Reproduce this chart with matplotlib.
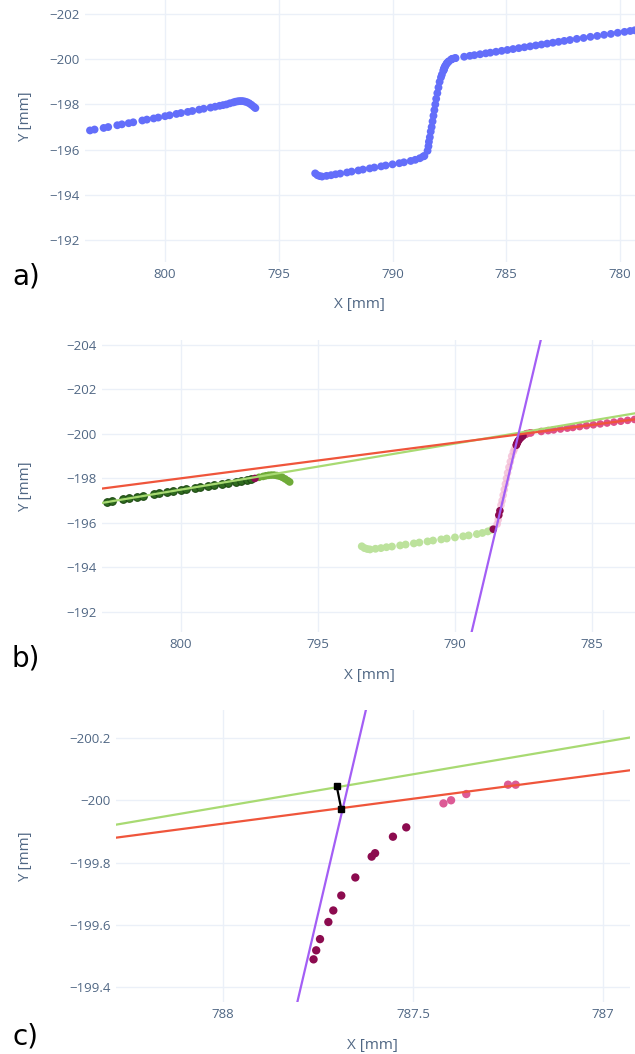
import matplotlib.pyplot as plt
from matplotlib.ticker import FuncFormatter

plt.rcParams['font.family'] = ['Open Sans', 'DejaVu Sans']

# measured contour points, split into the segments used in b) and c)
left_x = [803.3, 803.1, 802.7, 802.5, 802.1, 801.9, 801.6, 801.4, 801.0, 800.8, 800.5, 800.3,
          800.0, 799.8, 799.5, 799.3, 799.0, 798.8, 798.5, 798.3, 798.0, 797.8, 797.6, 797.45]
left_y = [-196.85, -196.89, -196.96, -197.00, -197.08, -197.12, -197.17, -197.21, -197.29, -197.33,
          -197.38, -197.42, -197.48, -197.52, -197.58, -197.62, -197.67, -197.71, -197.77, -197.81,
          -197.86, -197.90, -197.94, -197.97]

curl_x = [797.15, 797.0, 796.9, 796.8, 796.7, 796.6, 796.5, 796.4, 796.3, 796.2, 796.1, 796.03]
curl_y = [-198.05, -198.09, -198.12, -198.14, -198.15, -198.15, -198.13, -198.10, -198.05, -197.98,
          -197.90, -197.84]

bottom_x = [793.4, 793.3, 793.2, 793.1, 792.9, 792.7, 792.5, 792.3, 792.0, 791.8, 791.5, 791.3,
            791.0, 790.8, 790.5, 790.3, 790.0, 789.7, 789.5, 789.2, 789.0, 788.8, 788.65]
bottom_y = [-194.95, -194.87, -194.83, -194.81, -194.84, -194.87, -194.91, -194.94, -194.99, -195.03,
            -195.08, -195.12, -195.17, -195.21, -195.26, -195.30, -195.35, -195.40, -195.44, -195.50,
            -195.55, -195.62, -195.70]

break_x = [797.3, 788.6, 788.4, 788.36]
break_y = [-198.0, -195.72, -196.35, -196.55]

rise_x = [788.46, 788.42, 788.32, 788.28, 788.24, 788.20, 788.16, 788.12, 788.08, 788.03, 787.98,
          787.93, 787.87, 787.83]
rise_y = [-195.95, -196.15, -196.8, -197.0, -197.25, -197.5, -197.75, -198.0, -198.25, -198.5,
          -198.75, -199.0, -199.2, -199.32]

corner_x = [787.762, 787.755, 787.745, 787.723, 787.710, 787.689, 787.652, 787.609, 787.600,
            787.553, 787.518]
corner_y = [-199.489, -199.518, -199.554, -199.609, -199.646, -199.694, -199.752, -199.819, -199.830,
            -199.883, -199.913]

top_x = [787.42, 787.40, 787.36, 787.25, 787.23, 786.85, 786.6, 786.4, 786.15, 785.9, 785.7,
         785.45, 785.2, 784.95, 784.7, 784.45, 784.2, 783.95, 783.7, 783.45, 783.2, 782.95, 782.7,
         782.45, 782.2, 781.9, 781.6, 781.3, 781.0, 780.7, 780.4, 780.1, 779.8, 779.55, 779.35]
top_y = [-199.99, -200.00, -200.02, -200.05, -200.05, -200.11, -200.15, -200.18, -200.22,
         -200.26, -200.29, -200.33, -200.37, -200.41, -200.45, -200.49, -200.53, -200.57, -200.61,
         -200.65, -200.69, -200.73, -200.77, -200.81, -200.85, -200.90, -200.94, -200.99, -201.03,
         -201.08, -201.12, -201.17, -201.21, -201.25, -201.28]

# fitted lines: point on line and slope
red_pt, red_slope = (788.0, -199.925), 0.16
green_pt, green_slope = (788.0, -199.98), 0.207
purple_pt, purple_slope = (787.68, -200.0), 5.2

# corner points from the two intersections
sq_x = [787.701, 787.689]
sq_y = [-200.045, -199.972]

all_x = left_x + break_x[:1] + curl_x + bottom_x + break_x[1:] + rise_x + corner_x + top_x
all_y = left_y + break_y[:1] + curl_y + bottom_y + break_y[1:] + rise_y + corner_y + top_y

TXT = '#506784'
W, H = 635, 1054
fig = plt.figure(figsize=(W / 100, H / 100), dpi=100)


def axes_px(left, top, right, bottom):
    return fig.add_axes([left / W, 1 - bottom / H, (right - left) / W, (bottom - top) / H])


def style(ax, xlim, ylim, xticks, yticks):
    ax.set_xlim(*xlim)
    ax.set_ylim(*ylim)
    ax.set_xticks(xticks)
    ax.set_yticks(yticks)
    fmt = FuncFormatter(lambda v, p: ('%g' % round(v, 3)).replace('-', '\u2212'))
    ax.xaxis.set_major_formatter(fmt)
    ax.yaxis.set_major_formatter(fmt)
    ax.grid(True, color='#ebf0f8', linewidth=1)
    ax.set_axisbelow(True)
    for s in ax.spines.values():
        s.set_visible(False)
    ax.tick_params(length=0, labelsize=9.5, labelcolor=TXT, pad=4)


def fit_lines(ax):
    ax.axline(green_pt, slope=green_slope, color='#a8da72', lw=1.6, zorder=4)
    ax.axline(red_pt, slope=red_slope, color='#ef553b', lw=1.6, zorder=4)
    ax.axline(purple_pt, slope=purple_slope, color='#a35ef5', lw=1.6, zorder=5)


# a) raw points
ax1 = axes_px(85, 0, 635, 262)
style(ax1, (803.52, 779.34), (-191.03, -202.62), [800, 795, 790, 785, 780], range(-202, -191, 2))
ax1.scatter(all_x, all_y, s=32, color='#636efa', edgecolors='none', zorder=3)

# b) segments and fitted lines
ax2 = axes_px(102, 340, 635, 632)
style(ax2, (802.88, 783.43), (-191.10, -204.22), [800, 795, 790, 785], range(-204, -191, 2))
ax2.scatter(left_x, left_y, s=30, color='#2f6b1f', edgecolors='#1d4a12', linewidths=0.8, zorder=3)
ax2.scatter(curl_x, curl_y, s=30, color='#6fab38', edgecolors='none', zorder=3)
ax2.scatter(bottom_x, bottom_y, s=32, color='#bce29c', edgecolors='none', zorder=3)
ax2.scatter(rise_x, rise_y, s=30, color='#f2b3cf', alpha=0.7, edgecolors='none', zorder=3)
ax2.scatter(top_x, top_y, s=30, color='#df5088', edgecolors='none', zorder=3)
ax2.scatter(corner_x + break_x, corner_y + break_y, s=30, color='#8c0b4f', edgecolors='none', zorder=3)
fit_lines(ax2)

# c) zoom on the corner
ax3 = axes_px(116, 710, 630, 1002)
style(ax3, (788.282, 786.929), (-199.352, -200.29), [788, 787.5, 787],
      [-200.2, -200.0, -199.8, -199.6, -199.4])
ax3.scatter(rise_x, rise_y, s=36, color='#f2b3cf', edgecolors='none', zorder=3)
ax3.scatter(corner_x, corner_y, s=36, color='#8c0b4f', edgecolors='none', zorder=3)
ax3.scatter(top_x, top_y, s=36, color='#dc5a95', edgecolors='none', zorder=3)
fit_lines(ax3)
ax3.plot(sq_x, sq_y, color='black', lw=1.6, marker='s', ms=5, zorder=6)

# axis titles and panel letters
for ax, cx, ty, cy, letter, ly in [(ax1, 359, 305, 117, 'a)', 276),
                                   (ax2, 369, 675, 487, 'b)', 658),
                                   (ax3, 372, 1045, 857, 'c)', 1037)]:
    fig.text(cx / W, 1 - ty / H, 'X [mm]', ha='center', va='center', fontsize=11, color=TXT)
    fig.text(26 / W, 1 - cy / H, 'Y [mm]', ha='center', va='center', rotation=90, fontsize=11, color=TXT)
    fig.text(12 / W, 1 - ly / H, letter, ha='left', va='center', fontsize=20, color='black',
             family='DejaVu Sans')

fig.savefig('out.png', dpi=100)
